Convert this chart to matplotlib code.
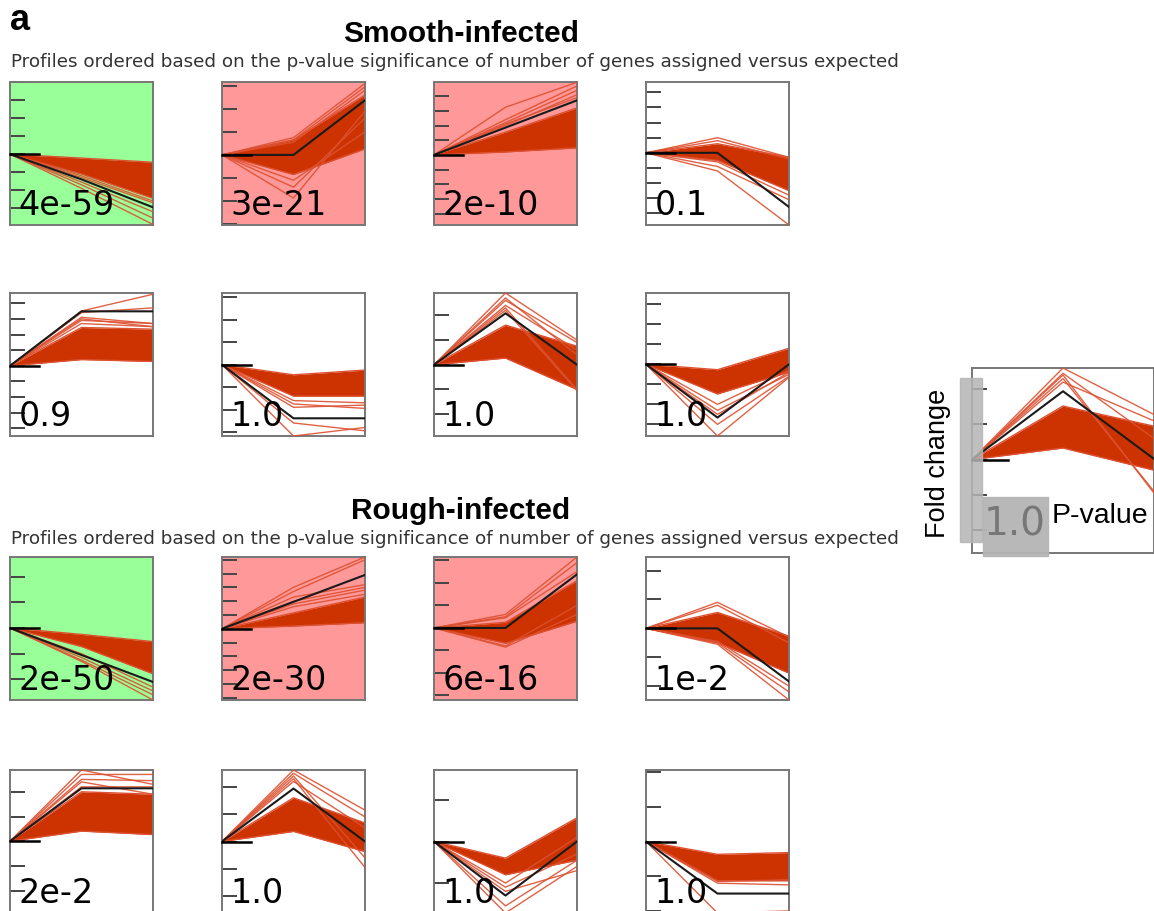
import numpy as np
import matplotlib
matplotlib.use('Agg')
from matplotlib import pyplot as plt
from matplotlib.patches import Rectangle

W, H = 1154, 911
t = [0, 1, 2]

# p-values printed in each profile box
smooth_pvals = ['4e-59', '3e-21', '2e-10', '0.1', '0.9', '1.0', '1.0', '1.0']
rough_pvals = ['2e-50', '2e-30', '6e-16', '1e-2', '2e-2', '1.0', '1.0', '1.0']
legend_pval = '1.0'

# box background: g = significant down, r = significant up, w = not significant
smooth_bg = ['g', 'r', 'r', 'w', 'w', 'w', 'w', 'w']
rough_bg = ['g', 'r', 'r', 'w', 'w', 'w', 'w', 'w']

# y range of each box (log fold change units)
smooth_ylim = [(-3.93, 4.0), (-3.04, 3.16), (-4.78, 4.97), (-4.77, 4.68),
               (-4.48, 4.65), (-3.18, 3.2), (-2.88, 2.9), (-3.58, 3.56)]
rough_ylim = [(-2.8, 2.76), (-5.16, 5.2), (-3.2, 3.15), (-2.48, 2.47),
              (-2.9, 2.88), (-2.62, 2.62), (-1.72, 1.72), (-2.06, 2.06)]
legend_ylim = (-2.65, 2.6)

# model profile (value at time 1, time 2), all start at 0
smooth_mean = [(-1.4, -2.95), (0.0, 2.37), (1.86, 3.72), (0.0, -3.58),
               (3.48, 3.48), (-2.39, -2.39), (2.08, 0.0), (-2.66, 0.0)]
rough_mean = [(-1.05, -2.1), (1.95, 3.9), (0.0, 2.38), (0.0, -1.84),
              (2.14, 2.14), (1.94, 0.0), (-1.3, 0.0), (-1.5, -1.5)]
legend_mean = (1.94, 0.02)

# envelope of the bulk of gene profiles (time 1, time 2)
smooth_lo = [(-1.1, -2.45), (-0.85, 0.26), (0.2, 0.48), (-0.5, -2.5),
             (0.4, 0.28), (-1.4, -1.4), (0.27, -1.0), (-1.48, -0.39)]
smooth_hi = [(-0.22, -0.45), (0.65, 2.6), (1.55, 3.2), (0.6, -0.3),
             (2.45, 2.34), (-0.45, -0.24), (1.6, 0.75), (-0.27, 0.8)]
rough_lo = [(-0.72, -1.78), (0.2, 0.44), (-0.68, 0.3), (-0.5, -1.55),
            (0.41, 0.27), (0.37, -0.37), (-0.8, -0.45), (-1.13, -1.13)]
rough_hi = [(-0.25, -0.53), (1.15, 2.3), (0.25, 2.1), (0.55, -0.27),
            (2.0, 1.9), (1.6, 0.68), (-0.4, 0.57), (-0.37, -0.32)]
legend_lo = (0.33, -0.3)
legend_hi = (1.52, 0.95)

# individual genes lying outside the bulk (time 1, time 2)
smooth_out = [
    [(-1.9, -3.9), (-1.7, -3.55), (-1.55, -3.2), (-1.3, -2.7), (-1.2, -2.6)],
    [(0.75, 3.1), (0.65, 2.95), (0.55, 2.8), (-1.4, 1.6), (-1.87, 1.9), (-1.1, 1.0)],
    [(3.25, 4.95), (2.4, 4.7), (2.2, 4.4), (2.0, 4.1), (2.1, 3.9)],
    [(1.0, -0.3), (0.8, -0.4), (-1.2, -4.77), (-0.9, -3.1), (-0.6, -2.8)],
    [(3.5, 4.57), (3.4, 3.7), (3.1, 2.7), (2.9, 2.7), (3.0, 2.5), (2.7, 2.5)],
    [(-1.6, -1.7), (-1.9, -1.8), (-3.18, -2.8), (-2.6, -2.95), (-1.75, -1.95)],
    [(2.9, 1.0), (2.6, 0.9), (2.4, 0.6), (2.3, -1.0), (2.2, -1.05), (2.7, 0.4)],
    [(-3.58, -0.65), (-3.0, -0.6), (-2.3, -0.5), (-2.0, -0.3), (-2.5, -0.4)],
]
rough_out = [
    [(-1.3, -2.8), (-1.25, -2.6), (-1.15, -2.45), (-1.0, -2.3)],
    [(3.0, 5.2), (2.7, 5.0), (2.3, 3.2), (2.0, 3.0), (1.8, 2.8), (1.6, 2.5)],
    [(0.6, 3.15), (0.5, 2.9), (0.45, 2.5), (-0.85, 0.6), (-0.8, 1.0)],
    [(0.9, -0.3), (0.8, -0.5), (-0.55, -2.48), (-0.5, -2.2), (-0.45, -2.0)],
    [(2.88, 2.3), (2.7, 2.7), (2.5, 2.45), (2.4, 1.9), (2.2, 2.2)],
    [(2.62, 1.15), (2.5, 0.9), (2.3, -0.95), (2.2, 0.5), (2.4, -0.6)],
    [(-1.72, -0.6), (-1.55, -0.45), (-1.2, -0.7), (-1.1, -0.3), (-1.0, 0.1)],
    [(-2.06, -2.0), (-1.2, -1.25), (-1.15, -1.1)],
]
legend_out = [(2.6, 1.28), (2.4, -0.95), (2.3, -0.9), (2.2, 1.1), (2.45, 0.6)]

bg_colors = {'g': '#99ff99', 'r': '#ff9999', 'w': 'white'}
RED = '#cc3300'
RED_LINE = '#dd5030'


def box(left, top, w, h):
    return [left / W, 1 - (top + h) / H, w / W, h / H]


def draw_profile(ax, ylim, mean, lo, hi, outliers, pval, bg):
    ax.set_facecolor(bg_colors[bg])
    ax.fill_between(t, [0, lo[0], lo[1]], [0, hi[0], hi[1]], color=RED, lw=0, zorder=2)
    ax.plot(t, [0, lo[0], lo[1]], color=RED_LINE, lw=1, zorder=2)
    ax.plot(t, [0, hi[0], hi[1]], color=RED_LINE, lw=1, zorder=2)
    for m, e in outliers:
        ax.plot(t, [0, m, e], color=RED_LINE, lw=1.0, alpha=0.9, zorder=3)
    ax.plot(t, [0, mean[0], mean[1]], color='#1a1a1a', lw=1.5, zorder=4)
    # long zero marker on the left edge
    ax.plot([0, 0.2], [0, 0], color='black', lw=1.8, zorder=5,
            transform=ax.get_yaxis_transform(), clip_on=False)
    ax.set_xlim(0, 2)
    ax.set_ylim(*ylim)
    ax.set_yticks(range(int(np.ceil(ylim[0])), int(np.floor(ylim[1])) + 1))
    ax.set_xticks([])
    ax.tick_params(axis='y', direction='in', length=11, width=1.4,
                   color='#444444', labelleft=False)
    for s in ax.spines.values():
        s.set_color('#777777')
        s.set_linewidth(1.4)
    ax.text(0.06, 0.07, pval, transform=ax.transAxes, fontsize=24,
            family='DejaVu Sans', color='black', zorder=6)


fig = plt.figure(figsize=(W / 100, H / 100), dpi=100)

col_left = [10, 222, 434, 646]
smooth_rows = [82, 293]
rough_rows = [557, 770]
size = 143

for i in range(8):
    r, c = divmod(i, 4)
    ax = fig.add_axes(box(col_left[c], smooth_rows[r], size, size))
    draw_profile(ax, smooth_ylim[i], smooth_mean[i], smooth_lo[i], smooth_hi[i],
                 smooth_out[i], smooth_pvals[i], smooth_bg[i])
    ax = fig.add_axes(box(col_left[c], rough_rows[r], size, size))
    draw_profile(ax, rough_ylim[i], rough_mean[i], rough_lo[i], rough_hi[i],
                 rough_out[i], rough_pvals[i], rough_bg[i])

# key box on the right
lax = fig.add_axes(box(972, 368, 182, 185))
draw_profile(lax, legend_ylim, legend_mean, legend_lo, legend_hi, legend_out, '', 'w')
fig.patches.append(Rectangle((960 / W, 1 - 542 / H), 22 / W, 164 / H,
                             transform=fig.transFigure, color='#b4b4b4',
                             alpha=0.85, zorder=10))
fig.patches.append(Rectangle((983 / W, 1 - 556 / H), 65 / W, 59 / H,
                             transform=fig.transFigure, color='#b4b4b4',
                             alpha=0.95, zorder=10))
fig.text(1015 / W, 1 - 524 / H, legend_pval, ha='center', va='center',
         fontsize=28, family='DejaVu Sans', color='#777777', zorder=11)
fig.text(938 / W, 1 - 463 / H, 'Fold change', rotation=90, ha='center', va='center',
         fontsize=19.5, family='Liberation Sans', zorder=11)
fig.text(1052 / W, 1 - 516 / H, 'P-value', ha='left', va='center',
         fontsize=20.5, family='Liberation Sans', zorder=11)

# headings
sub = ('Profiles ordered based on the p-value significance of number of genes '
       'assigned versus expected')
fig.text(10 / W, 1 - 20 / H, 'a', ha='left', va='center', fontsize=26,
         fontweight='bold', family='Liberation Sans')
fig.text(461 / W, 1 - 34 / H, 'Smooth-infected', ha='center', va='center',
         fontsize=21.5, fontweight='bold', family='Liberation Sans')
fig.text(455 / W, 1 - 62 / H, sub, ha='center', va='center', fontsize=13.2,
         family='DejaVu Sans', color='#333333')
fig.text(461 / W, 1 - 511 / H, 'Rough-infected', ha='center', va='center',
         fontsize=21.5, fontweight='bold', family='Liberation Sans')
fig.text(455 / W, 1 - 539 / H, sub, ha='center', va='center', fontsize=13.2,
         family='DejaVu Sans', color='#333333')

fig.savefig('out.png', dpi=100)
